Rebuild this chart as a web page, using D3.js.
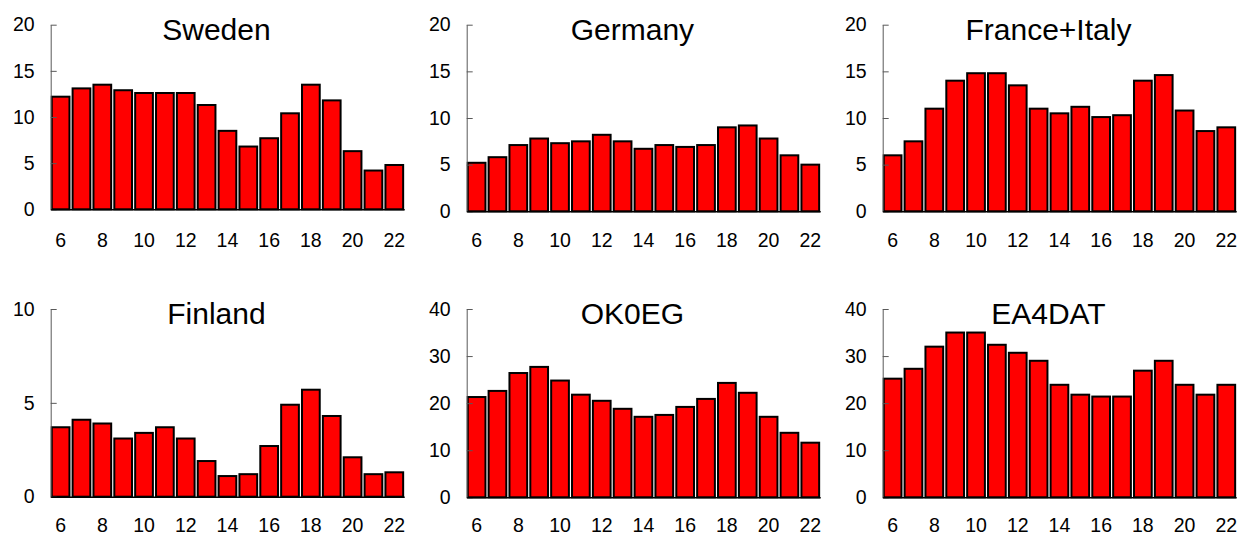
<!DOCTYPE html>
<html>
<head>
<meta charset="utf-8">
<script src="https://cdn.jsdelivr.net/npm/d3@7"></script>
<style>
  html, body { margin: 0; padding: 0; background: #fff; }
  svg { display: block; }
  text { font-family: "Liberation Sans", Arial, sans-serif; fill: #000; }
</style>
</head>
<body>
<svg id="chart" width="1240" height="537"></svg>
<script>
// Hours of the day (x categories)
const hours = [6, 7, 8, 9, 10, 11, 12, 13, 14, 15, 16, 17, 18, 19, 20, 21, 22];
const hourTicks = [6, 8, 10, 12, 14, 16, 18, 20, 22];

// Panel titles
const titles = ["Sweden", "Germany", "France+Italy", "Finland", "OK0EG", "EA4DAT"];

// Series values per panel
const sweden      = [12.2, 13.1, 13.5, 12.9, 12.6, 12.6, 12.6, 11.3, 8.5, 6.8, 7.7, 10.4, 13.5, 11.8, 6.3, 4.2, 4.8];
const germany     = [5.2, 5.8, 7.1, 7.8, 7.3, 7.5, 8.2, 7.5, 6.7, 7.1, 6.9, 7.1, 9.0, 9.2, 7.8, 6.0, 5.0];
const franceItaly = [6.0, 7.5, 11.0, 14.0, 14.8, 14.8, 13.5, 11.0, 10.5, 11.2, 10.1, 10.3, 14.0, 14.6, 10.8, 8.6, 9.0];
const finland     = [3.7, 4.1, 3.9, 3.1, 3.4, 3.7, 3.1, 1.9, 1.1, 1.2, 2.7, 4.9, 5.7, 4.3, 2.1, 1.2, 1.3];
const ok0eg       = [21.3, 22.6, 26.4, 27.7, 24.8, 21.8, 20.5, 18.8, 17.1, 17.5, 19.2, 20.9, 24.3, 22.2, 17.1, 13.7, 11.6];
const ea4dat      = [25.2, 27.3, 32.0, 35.0, 35.0, 32.4, 30.7, 29.0, 23.9, 21.8, 21.4, 21.4, 26.9, 29.0, 23.9, 21.8, 23.9];

// Y tick labels per panel
const ticks20 = [0, 5, 10, 15, 20];
const ticks10 = [0, 5, 10];
const ticks40 = [0, 10, 20, 30, 40];

const series = [sweden, germany, franceItaly, finland, ok0eg, ea4dat];
const yTicks = [ticks20, ticks20, ticks20, ticks10, ticks40, ticks40];

// Plot-area geometry for each panel (left, top, bottom, label gap)
const plotWidth = 353.5;
const frames = [
  { x: 50.7,  top: 24.7, bottom: 209.3, titleY: 40,  labelGap: 24 },
  { x: 466.7, top: 24.7, bottom: 211.3, titleY: 40,  labelGap: 22 },
  { x: 882.7, top: 24.7, bottom: 211.3, titleY: 40,  labelGap: 22 },
  { x: 50.7,  top: 309,  bottom: 496.7, titleY: 324, labelGap: 21 },
  { x: 466.7, top: 309,  bottom: 497.3, titleY: 324, labelGap: 20.5 },
  { x: 882.7, top: 309,  bottom: 497.3, titleY: 324, labelGap: 20.5 }
];

const svg = d3.select("#chart");
const tickFont = 19.5;

series.forEach((values, i) => {
  const f = frames[i];
  const tv = yTicks[i];
  const g = svg.append("g");

  const x = d3.scaleBand()
    .domain(hours)
    .range([f.x, f.x + plotWidth])
    .paddingInner(0.15)
    .paddingOuter(0.05);

  const y = d3.scaleLinear()
    .domain([0, d3.max(tv)])
    .range([f.bottom, f.top]);

  // Bars
  g.append("g")
    .selectAll("rect")
    .data(values)
    .join("rect")
    .attr("x", (d, j) => x(hours[j]))
    .attr("y", d => y(d))
    .attr("width", x.bandwidth())
    .attr("height", d => y(0) - y(d))
    .attr("fill", "#ff0000")
    .attr("stroke", "#000")
    .attr("stroke-width", 2);

  // Y axis with inward ticks
  const yAxis = g.append("g")
    .attr("transform", `translate(${f.x},0)`)
    .call(d3.axisLeft(y).tickValues(tv).tickSizeInner(-6).tickSizeOuter(0).tickPadding(16));
  yAxis.select(".domain").attr("stroke", "#595959").attr("stroke-width", 1);
  yAxis.selectAll(".tick line").attr("stroke", "#595959");
  yAxis.selectAll(".tick text")
    .attr("font-size", tickFont)
    .attr("font-family", "Liberation Sans, Arial, sans-serif")
    .attr("fill", "#000");

  // X axis: baseline and even-hour labels
  const xAxis = g.append("g")
    .attr("transform", `translate(0,${f.bottom})`)
    .call(d3.axisBottom(x).tickValues(hourTicks).tickSize(0).tickPadding(f.labelGap));
  xAxis.select(".domain").attr("stroke", "#000").attr("stroke-width", 1.5);
  xAxis.selectAll(".tick text")
    .attr("font-size", tickFont)
    .attr("font-family", "Liberation Sans, Arial, sans-serif")
    .attr("fill", "#000");

  // Panel title
  g.append("text")
    .attr("x", f.x + plotWidth / 2 - 11)
    .attr("y", f.titleY)
    .attr("text-anchor", "middle")
    .attr("font-size", 30)
    .text(titles[i]);
});
</script>
</body>
</html>
